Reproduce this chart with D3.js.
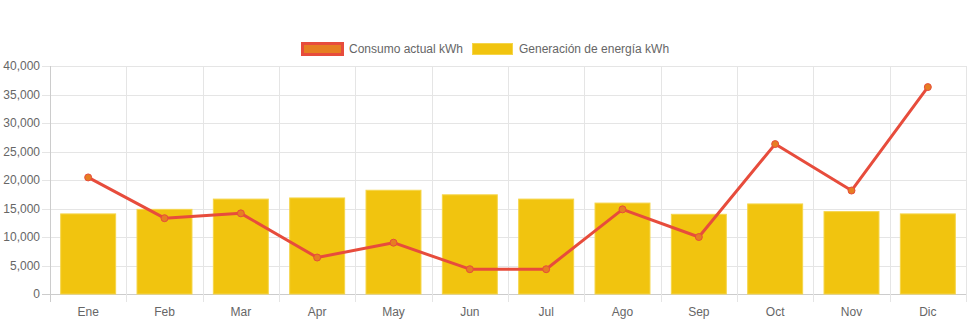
<!DOCTYPE html>
<html><head><meta charset="utf-8">
<script src="https://cdn.jsdelivr.net/npm/d3@7"></script>
<style>
body{margin:0;background:#fff;}
svg{display:block;font-family:"Liberation Sans",Arial,Helvetica,sans-serif;}
</style></head>
<body><svg id="c" width="971" height="323"></svg>
<script>
const categories = ["Ene","Feb","Mar","Apr","May","Jun","Jul","Ago","Sep","Oct","Nov","Dic"];
const consumo = [20450, 13300, 14150, 6400, 9000, 4350, 4350, 14850, 10000, 26300, 18150, 36300];
const generacion = [14050, 14850, 16650, 16850, 18200, 17400, 16650, 15950, 13980, 15800, 14450, 14050];
const yTicks = [0,5000,10000,15000,20000,25000,30000,35000,40000];
const legendLabels = ["Consumo actual kWh","Generación de energía kWh"];

const svg = d3.select("#c");
const L = 50, R = 966, T = 66, B = 294;
const x = d3.scaleBand().domain(categories).range([L,R]).paddingInner(0.28).paddingOuter(0.14);
const xb = d3.scaleBand().domain(categories).range([L,R]);
const y = d3.scaleLinear().domain([0,40000]).range([B,T]);
const grid = "#e5e5e5", txt = "#666";

// horizontal gridlines
svg.append("g").selectAll("line").data(yTicks).join("line")
  .attr("x1",L-8).attr("x2",R).attr("y1",d=>Math.round(y(d))+0.5).attr("y2",d=>Math.round(y(d))+0.5)
  .attr("stroke",d=>d===0?"#ccc":grid).attr("stroke-width",1);
// vertical gridlines
const vx = categories.map(c=>xb(c)).concat([R]);
svg.append("g").selectAll("line").data(vx).join("line")
  .attr("x1",d=>Math.round(d)+0.5).attr("x2",d=>Math.round(d)+0.5)
  .attr("y1",T).attr("y2",B+8)
  .attr("stroke",(d,i)=>i===0?"#ccc":grid).attr("stroke-width",1);

// y labels
svg.append("g").selectAll("text").data(yTicks).join("text")
  .attr("x",L-10).attr("y",d=>y(d)).attr("dy","0.35em").attr("text-anchor","end")
  .attr("font-size",12).attr("fill",txt).text(d=>d3.format(",")(d));
// x labels
svg.append("g").selectAll("text").data(categories).join("text")
  .attr("x",d=>xb(d)+xb.bandwidth()/2).attr("y",312).attr("dy","0.35em").attr("text-anchor","middle")
  .attr("font-size",12).attr("fill",txt).text(d=>d);

// bars
svg.append("g").selectAll("rect").data(generacion).join("rect")
  .attr("x",(d,i)=>x(categories[i])).attr("width",x.bandwidth())
  .attr("y",d=>y(d)).attr("height",d=>B-y(d))
  .attr("fill","#f1c40f").attr("stroke","#f5d54a").attr("stroke-width",1);

// line
const cx = (i)=>xb(categories[i])+xb.bandwidth()/2;
svg.append("path").datum(consumo)
  .attr("d",d3.line().x((d,i)=>cx(i)).y(d=>y(d)))
  .attr("fill","none").attr("stroke","#e74c3c").attr("stroke-width",3).attr("stroke-linejoin","round");
svg.append("g").selectAll("circle").data(consumo).join("circle")
  .attr("cx",(d,i)=>cx(i)).attr("cy",d=>y(d)).attr("r",3.5)
  .attr("fill","#e67e22").attr("stroke","#e74c3c").attr("stroke-width",1);

// legend
const lg = svg.append("g");
lg.append("rect").attr("x",302.5).attr("y",43.5).attr("width",40).attr("height",11)
  .attr("fill","#e67e22").attr("stroke","#e74c3c").attr("stroke-width",3);
lg.append("text").attr("x",349).attr("y",49).attr("dy","0.35em").attr("font-size",12).attr("fill",txt).text(legendLabels[0]);
lg.append("rect").attr("x",472.5).attr("y",43.5).attr("width",40).attr("height",11)
  .attr("fill","#f1c40f").attr("stroke","#f5d54a").attr("stroke-width",1);
lg.append("text").attr("x",519).attr("y",49).attr("dy","0.35em").attr("font-size",12).attr("fill",txt).text(legendLabels[1]);
</script></body></html>
